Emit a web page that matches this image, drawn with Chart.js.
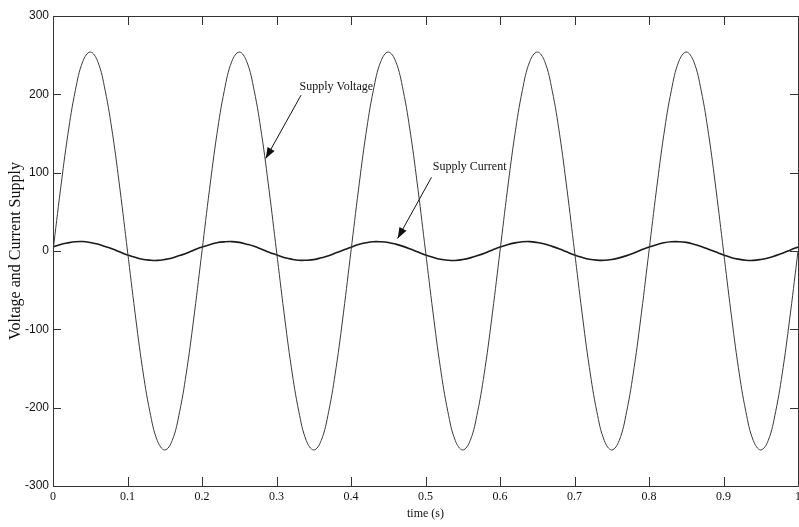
<!DOCTYPE html>
<html>
<head>
<meta charset="utf-8">
<script src="https://cdn.jsdelivr.net/npm/chart.js@4.4.1/dist/chart.umd.min.js"></script>
<style>
html,body{margin:0;padding:0;background:#fff;}
#wrap{width:799px;height:527px;position:relative;}
</style>
</head>
<body>
<div id="wrap"><canvas id="c" width="799" height="527"></canvas></div>
<script>
// time (s)
const time = [0,0.01,0.02,0.03,0.04,0.05,0.06,0.07,0.08,0.09,
0.10,0.11,0.12,0.13,0.14,0.15,0.16,0.17,0.18,0.19,
0.20,0.21,0.22,0.23,0.24,0.25,0.26,0.27,0.28,0.29,
0.30,0.31,0.32,0.33,0.34,0.35,0.36,0.37,0.38,0.39,
0.40,0.41,0.42,0.43,0.44,0.45,0.46,0.47,0.48,0.49,
0.50,0.51,0.52,0.53,0.54,0.55,0.56,0.57,0.58,0.59,
0.60,0.61,0.62,0.63,0.64,0.65,0.66,0.67,0.68,0.69,
0.70,0.71,0.72,0.73,0.74,0.75,0.76,0.77,0.78,0.79,
0.80,0.81,0.82,0.83,0.84,0.85,0.86,0.87,0.88,0.89,
0.90,0.91,0.92,0.93,0.94,0.95,0.96,0.97,0.98,0.99,1.00];

// Supply Voltage (V)
const supplyVoltage = [0,78,149,205,242,254,242,205,149,78,0,-78,-149,-205,-242,-254,-242,-205,-149,-78,
0,78,149,205,242,254,242,205,149,78,0,-78,-149,-205,-242,-254,-242,-205,-149,-78,
0,78,149,205,242,254,242,205,149,78,0,-78,-149,-205,-242,-254,-242,-205,-149,-78,
0,78,149,205,242,254,242,205,149,78,0,-78,-149,-205,-242,-254,-242,-205,-149,-78,
0,78,149,205,242,254,242,205,149,78,0,-78,-149,-205,-242,-254,-242,-205,-149,-78,
0];

// Supply Current (A)
const supplyCurrent = [5.0,8.3,10.4,11.9,12.1,10.8,8.9,5.8,2.5,-1.3,-5.1,-8.0,-10.6,-11.7,-12.0,-10.8,-8.9,-5.8,-2.5,1.5,
5.1,8.0,10.6,11.7,12.0,11.0,8.7,6.0,2.3,-1.5,-4.9,-8.2,-10.4,-11.9,-11.8,-11.0,-8.7,-6.0,-2.3,1.3,
4.9,8.2,10.5,11.9,11.8,10.9,8.8,5.9,2.4,-1.4,-5.0,-8.1,-10.6,-11.8,-12.1,-10.9,-8.8,-5.8,-2.4,1.4,
5.0,8.1,10.4,11.8,12.0,10.8,8.9,5.9,2.5,-1.3,-5.1,-8.1,-10.5,-11.7,-11.9,-10.9,-8.8,-5.9,-2.4,1.5,
5.1,8.0,10.6,11.8,11.9,11.0,8.7,5.8,2.3,-1.4,-5.0,-8.2,-10.4,-11.8,-12.0,-10.8,-8.9,-5.9,-2.5,1.4,
5.0];

const xTicks = [0,0.1,0.2,0.3,0.4,0.5,0.6,0.7,0.8,0.9,1];
const yTicks = [-300,-200,-100,0,100,200,300];

const annotationLabels = ["Supply Voltage","Supply Current"];

const annotations = [
  {text: annotationLabels[0], tx:0.331, ty:210, from:[0.333,199], to:[0.2855,118]},
  {text: annotationLabels[1], tx:0.5098, ty:107, from:[0.508,94], to:[0.4626,16]}
];

const boxPlugin = {
  id:'boxPlugin',
  afterDatasetsDraw(chart){
    const {ctx, chartArea:a, scales:{x,y}} = chart;
    ctx.save();
    ctx.strokeStyle = '#333';
    ctx.lineWidth = 1;
    ctx.beginPath();
    ctx.rect(Math.round(a.left)+0.5, Math.round(a.top)+0.5, Math.round(a.right-a.left), Math.round(a.bottom-a.top));
    ctx.stroke();
    ctx.beginPath();
    xTicks.forEach(v=>{
      const px = Math.round(x.getPixelForValue(v))+0.5;
      ctx.moveTo(px, a.bottom); ctx.lineTo(px, a.bottom-9);
      ctx.moveTo(px, a.top); ctx.lineTo(px, a.top+9);
    });
    yTicks.forEach(v=>{
      const py = Math.round(y.getPixelForValue(v))+0.5;
      ctx.moveTo(a.left, py); ctx.lineTo(a.left+8, py);
      ctx.moveTo(a.right, py); ctx.lineTo(a.right-8, py);
    });
    ctx.stroke();
    // annotations
    ctx.fillStyle = '#111';
    ctx.strokeStyle = '#111';
    ctx.font = '12px "Liberation Serif", "Times New Roman", serif';
    ctx.textBaseline = 'middle';
    ctx.textAlign = 'left';
    annotations.forEach(an=>{
      ctx.fillText(an.text, x.getPixelForValue(an.tx), y.getPixelForValue(an.ty));
      const x1 = x.getPixelForValue(an.from[0]), y1 = y.getPixelForValue(an.from[1]);
      const x2 = x.getPixelForValue(an.to[0]), y2 = y.getPixelForValue(an.to[1]);
      ctx.beginPath(); ctx.moveTo(x1,y1); ctx.lineTo(x2,y2); ctx.stroke();
      const ang = Math.atan2(y2-y1, x2-x1);
      const L = 11, W = 4;
      ctx.beginPath();
      ctx.moveTo(x2,y2);
      ctx.lineTo(x2 - L*Math.cos(ang) + W*Math.sin(ang), y2 - L*Math.sin(ang) - W*Math.cos(ang));
      ctx.lineTo(x2 - L*Math.cos(ang) - W*Math.sin(ang), y2 - L*Math.sin(ang) + W*Math.cos(ang));
      ctx.closePath(); ctx.fill();
    });
    ctx.restore();
  }
};

new Chart(document.getElementById('c'), {
  type:'line',
  data:{
    datasets:[
      {label:'Supply Voltage', data: time.map((t,i)=>({x:t,y:supplyVoltage[i]})), borderColor:'#3a3a3a', borderWidth:1, pointRadius:0, tension:0.4, fill:false},
      {label:'Supply Current', data: time.map((t,i)=>({x:t,y:supplyCurrent[i]})), borderColor:'#1a1a1a', borderWidth:1.6, pointRadius:0, tension:0.4, fill:false}
    ]
  },
  options:{
    responsive:false,
    animation:false,
    devicePixelRatio:1,
    layout:{autoPadding:false, padding:{top:16, right:1, left:0, bottom:0}},
    plugins:{legend:{display:false}, tooltip:{enabled:false}},
    scales:{
      x:{
        type:'linear', min:0, max:1,
        afterFit(s){ s.height = 41; s.paddingLeft = 0; s.paddingRight = 0; },
        afterBuildTicks(s){ s.ticks = xTicks.map(v=>({value:v})); },
        grid:{display:false, drawTicks:false},
        border:{display:false},
        ticks:{padding:4, color:'#111', maxRotation:0, autoSkip:false,
          font:{family:'"Liberation Serif", "Times New Roman", serif', size:12},
          callback:(v)=>String(Math.round(v*10)/10)},
        title:{display:true, text:'time (s)', color:'#111', padding:{top:0,bottom:6},
          font:{family:'"Liberation Serif", "Times New Roman", serif', size:12}}
      },
      y:{
        type:'linear', min:-300, max:300,
        afterFit(s){ s.width = 53; s.paddingTop = 0; s.paddingBottom = 0; },
        afterBuildTicks(s){ s.ticks = yTicks.map(v=>({value:v})); },
        grid:{display:false, drawTicks:false},
        border:{display:false},
        ticks:{padding:4, color:'#111',
          font:{family:'"Liberation Sans", Arial, sans-serif', size:12}},
        title:{display:true, text:'Voltage and Current Supply', color:'#111', padding:{top:6,bottom:0},
          font:{family:'"Liberation Serif", "Times New Roman", serif', size:16}}
      }
    }
  },
  plugins:[boxPlugin]
});
</script>
</body>
</html>
